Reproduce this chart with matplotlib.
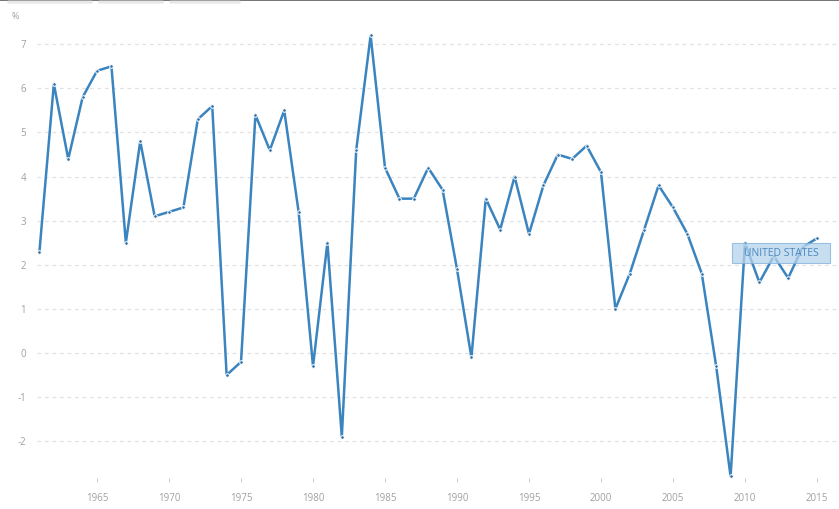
import matplotlib.pyplot as plt
from matplotlib.patches import FancyBboxPatch, Rectangle

# GDP growth (annual %), United States
years = list(range(1961, 2016))
growth = [2.3, 6.1, 4.4, 5.8, 6.4, 6.5, 2.5, 4.8, 3.1, 3.2,
          3.3, 5.3, 5.6, -0.5, -0.2, 5.4, 4.6, 5.5, 3.2, -0.3,
          2.5, -1.9, 4.6, 7.2, 4.2, 3.5, 3.5, 4.2, 3.7, 1.9,
          -0.1, 3.5, 2.8, 4.0, 2.7, 3.8, 4.5, 4.4, 4.7, 4.1,
          1.0, 1.8, 2.8, 3.8, 3.3, 2.7, 1.8, -0.3, -2.8, 2.5,
          1.6, 2.2, 1.7, 2.4, 2.6]
xticks = [1965, 1970, 1975, 1980, 1985, 1990, 1995, 2000, 2005, 2010, 2015]
yticks = [-2, -1, 0, 1, 2, 3, 4, 5, 6, 7]
series_label = "UNITED STATES"

plt.rcParams['font.family'] = ['Open Sans', 'DejaVu Sans']
plt.rcParams['axes.unicode_minus'] = False
blue = "#3a84bf"
grey = "#a0a0a0"

W, H = 839, 509
fig = plt.figure(figsize=(W / 100, H / 100), dpi=100)
ax = fig.add_axes([37 / W, 1 - 482 / H, (W - 37) / W, (482 - 28) / H])

ax.plot(years, growth, color=blue, lw=1.8, marker='o', ms=2.6,
        mfc="#2a6ea6", mec="white", mew=0.7, solid_joinstyle='round')

ax.set_xlim(1960.83, 2016.53)
ax.set_ylim((353 - 482) / 44.1, (353 - 28) / 44.1)
ax.set_yticks(yticks)
ax.set_xticks(xticks)
ax.grid(axis='y', color="#e2e2e2", ls=(0, (3, 3)), lw=0.9)
ax.set_axisbelow(True)
for s in ax.spines.values():
    s.set_visible(False)
ax.tick_params(axis='y', length=0, pad=8, labelsize=7, labelcolor=grey)
ax.tick_params(axis='x', direction='in', length=3, color="#cccccc", pad=8,
               labelsize=7, labelcolor=grey)

ax.text(-26 / (W - 37), 1 + 11 / (482 - 28), "%", transform=ax.transAxes,
        fontsize=6.5, color=grey, ha='left', va='center')

# series label box
ax.add_patch(Rectangle((2009.1, 2.04), 6.8, 0.45, fc="#b5d3ec", ec="#7fb0db",
                       lw=0.8, alpha=0.75, zorder=4))
ax.text(2012.5, 2.265, series_label, fontsize=7.5, color="#4a88c0",
        ha='center', va='center', zorder=5)

# top tabs and border
fig.add_artist(Rectangle((0, 1 - 1 / H), 1, 1 / H, transform=fig.transFigure,
                         color="#777777", lw=0))
for x0, x1 in [(8, 92), (99, 163), (170, 240)]:
    fig.add_artist(FancyBboxPatch((x0 / W, 1 - 3 / H), (x1 - x0) / W, 2 / H,
                                  boxstyle='round,pad=0', transform=fig.transFigure,
                                  fc="#f0f0f0", ec="#dddddd", lw=0.6))

fig.savefig("out.png", dpi=100)
